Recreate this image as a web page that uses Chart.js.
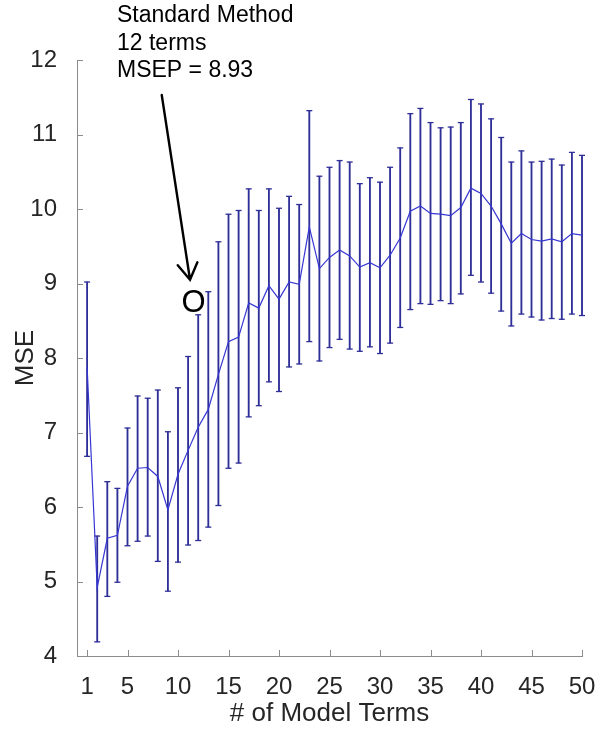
<!DOCTYPE html>
<html>
<head>
<meta charset="utf-8">
<script src="https://cdn.jsdelivr.net/npm/chart.js@4/dist/chart.umd.min.js"></script>
<style>
  html, body { margin: 0; padding: 0; background: #fff; }
  #wrap { width: 599px; height: 729px; }
</style>
</head>
<body>
<div id="wrap"><canvas id="chart" width="599" height="729"></canvas></div>
<script>
/* ─── data ─────────────────────────────────────────────────── */
const terms = [1, 2, 3, 4, 5, 6, 7, 8, 9, 10, 11, 12, 13, 14, 15, 16, 17, 18, 19, 20,
  21, 22, 23, 24, 25, 26, 27, 28, 29, 30, 31, 32, 33, 34, 35, 36, 37, 38, 39, 40,
  41, 42, 43, 44, 45, 46, 47, 48, 49, 50];

const mseMean = [7.88, 4.92, 5.58, 5.62, 6.28, 6.52, 6.53, 6.41, 5.96, 6.44,
  6.76, 7.07, 7.31, 7.78, 8.22, 8.28, 8.74, 8.67, 8.97, 8.79,
  9.02, 8.99, 9.76, 9.20, 9.35, 9.45, 9.37, 9.22, 9.28, 9.21,
  9.38, 9.61, 9.97, 10.04, 9.94, 9.93, 9.91, 10.02, 10.28, 10.21,
  10.04, 9.80, 9.54, 9.67, 9.59, 9.57, 9.60, 9.56, 9.67, 9.65];

const mseUpper = [9.02, 5.61, 6.34, 6.25, 7.06, 7.49, 7.46, 7.57, 7.01, 7.60,
  8.02, 8.58, 8.89, 9.56, 9.93, 9.98, 10.27, 9.98, 10.27, 10.01,
  10.17, 10.06, 11.32, 10.44, 10.56, 10.65, 10.63, 10.34, 10.42, 10.36,
  10.56, 10.82, 11.28, 11.35, 11.16, 11.09, 11.10, 11.16, 11.47, 11.41,
  11.21, 10.96, 10.63, 10.78, 10.63, 10.64, 10.67, 10.59, 10.76, 10.72];

const mseLower = [6.68, 4.19, 4.80, 4.99, 5.48, 5.54, 5.61, 5.27, 4.87, 5.26,
  5.49, 5.55, 5.73, 6.02, 6.52, 6.59, 7.21, 7.36, 7.68, 7.55,
  7.88, 7.92, 8.22, 7.96, 8.14, 8.25, 8.12, 8.09, 8.15, 8.06,
  8.20, 8.41, 8.65, 8.73, 8.72, 8.77, 8.73, 8.86, 9.11, 9.02,
  8.87, 8.63, 8.43, 8.59, 8.55, 8.51, 8.53, 8.52, 8.59, 8.57];

const xTickValues = [1, 5, 10, 15, 20, 25, 30, 35, 40, 45, 50];
const yTickValues = [4, 5, 6, 7, 8, 9, 10, 11, 12];

const noteLines = ['Standard Method', '12 terms', 'MSEP = 8.93'];
const markerText = 'O';

/* ─── annotation placement (data units) ───────────────────── */
const NOTE_AT    = { x: 3.96, y: [12.51, 12.13, 11.77] };
const ARROW_FROM = { x: 8.39, y: 11.53 };
const ARROW_TO   = { x: 11.19, y: 9.05 };
const MARKER_AT  = { x: 11.53, y: 8.73 };

const FONT    = 'Liberation Sans, Arial, Helvetica, sans-serif';
const AXIS    = '#8c8c8c';
const TEXT    = '#262626';
const LINE_C  = '#3636d4';
const ERR_C   = '#2f2f98';

const decor = {
  id: 'decor',
  afterDatasetsDraw(chart) {
    const { ctx, chartArea: a, scales: { x, y } } = chart;
    ctx.save();

    // inward tick marks, MATLAB style
    ctx.strokeStyle = AXIS;
    ctx.lineWidth = 1;
    ctx.beginPath();
    xTickValues.forEach(v => {
      const px = Math.round(x.getPixelForValue(v)) + 0.5;
      ctx.moveTo(px, a.bottom);
      ctx.lineTo(px, a.bottom - 6);
    });
    yTickValues.forEach(v => {
      const py = Math.round(y.getPixelForValue(v)) + 0.5;
      ctx.moveTo(a.left, py);
      ctx.lineTo(a.left + 6, py);
    });
    ctx.stroke();

    // text note
    ctx.fillStyle = '#000';
    ctx.font = `23px ${FONT}`;
    ctx.textAlign = 'left';
    ctx.textBaseline = 'alphabetic';
    noteLines.forEach((t, i) => {
      ctx.fillText(t, x.getPixelForValue(NOTE_AT.x), y.getPixelForValue(NOTE_AT.y[i]));
    });

    // arrow
    const x0 = x.getPixelForValue(ARROW_FROM.x), y0 = y.getPixelForValue(ARROW_FROM.y);
    const x1 = x.getPixelForValue(ARROW_TO.x),   y1 = y.getPixelForValue(ARROW_TO.y);
    const ang = Math.atan2(y1 - y0, x1 - x0);
    const head = 19, spread = 0.55;
    ctx.strokeStyle = '#000';
    ctx.lineWidth = 2.4;
    ctx.lineCap = 'round';
    ctx.beginPath();
    ctx.moveTo(x0, y0);
    ctx.lineTo(x1, y1);
    ctx.moveTo(x1 - head * Math.cos(ang - spread), y1 - head * Math.sin(ang - spread));
    ctx.lineTo(x1, y1);
    ctx.lineTo(x1 - head * Math.cos(ang + spread), y1 - head * Math.sin(ang + spread));
    ctx.stroke();

    // the "O" marker
    ctx.font = `31px ${FONT}`;
    ctx.textAlign = 'center';
    ctx.textBaseline = 'middle';
    ctx.fillText(markerText, x.getPixelForValue(MARKER_AT.x), y.getPixelForValue(MARKER_AT.y));

    ctx.restore();
  },
};

const errBars = terms.map((t, i) => ({ x: t, y: [mseLower[i], mseUpper[i]] }));
const capsHi  = terms.map((t, i) => ({ x: t, y: mseUpper[i] }));
const capsLo  = terms.map((t, i) => ({ x: t, y: mseLower[i] }));
const meanPts = terms.map((t, i) => ({ x: t, y: mseMean[i] }));

const capStyle = {
  type: 'line',
  showLine: false,
  clip: false,
  pointStyle: 'line',
  pointRadius: 3,
  pointBorderWidth: 1.3,
  pointBorderColor: ERR_C,
  pointHoverRadius: 3,
  order: 2,
};

new Chart(document.getElementById('chart').getContext('2d'), {
  type: 'bar',
  data: {
    datasets: [
      {
        label: 'MSE',
        type: 'line',
        data: meanPts,
        borderColor: LINE_C,
        borderWidth: 1.2,
        pointRadius: 0,
        tension: 0,
        clip: false,
        order: 1,
      },
      { label: 'upper', data: capsHi, ...capStyle },
      { label: 'lower', data: capsLo, ...capStyle },
      {
        label: 'spread',
        type: 'bar',
        data: errBars,
        backgroundColor: ERR_C,
        borderWidth: 0,
        barThickness: 1.2,
        grouped: false,
        clip: false,
        order: 3,
      },
    ],
  },
  options: {
    responsive: false,
    animation: false,
    events: [],
    layout: { padding: { top: 60, right: 17, left: 0, bottom: 0 } },
    plugins: { legend: { display: false }, tooltip: { enabled: false } },
    scales: {
      x: {
        type: 'linear',
        min: 0,
        max: 50,
        offset: false,
        grid: { display: false },
        border: { display: true, color: AXIS, width: 1 },
        afterBuildTicks: s => { s.ticks = xTickValues.map(v => ({ value: v })); },
        afterFit: s => { s.height = 73; s.paddingLeft = 0; s.paddingRight = 0; },
        ticks: { color: TEXT, font: { family: FONT, size: 24 }, padding: 9, maxRotation: 0, autoSkip: false },
        title: { display: true, text: '# of Model Terms', color: TEXT, font: { family: FONT, size: 26 }, padding: { top: 3, bottom: 0 } },
      },
      y: {
        min: 4,
        max: 12,
        grid: { display: false },
        border: { display: true, color: AXIS, width: 1 },
        afterBuildTicks: s => { s.ticks = yTickValues.map(v => ({ value: v })); },
        afterFit: s => { s.width = 77; s.paddingTop = 0; s.paddingBottom = 0; },
        ticks: { color: TEXT, font: { family: FONT, size: 24 }, padding: 12 },
        title: { display: true, text: 'MSE', color: TEXT, font: { family: FONT, size: 26 }, padding: { top: 10, bottom: 0 } },
      },
    },
  },
  plugins: [decor],
});
</script>
</body>
</html>
